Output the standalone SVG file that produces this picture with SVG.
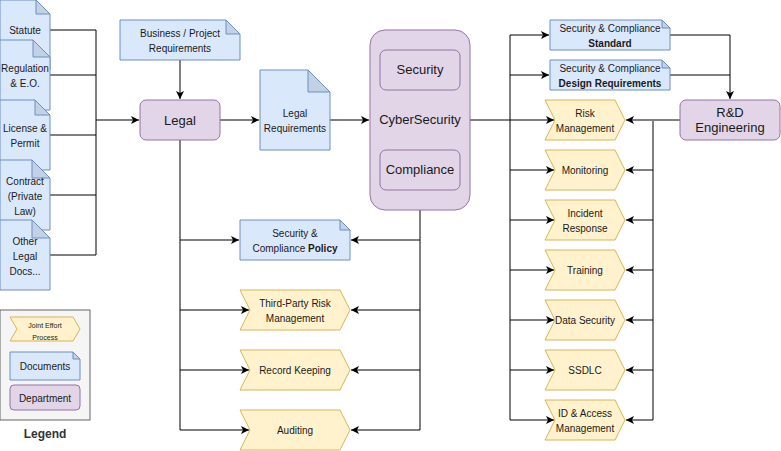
<svg xmlns="http://www.w3.org/2000/svg" width="781" height="451" viewBox="0 0 781 451">
<style>
text{font-family:"Liberation Sans",Arial,sans-serif;fill:#1a1a1a;text-anchor:middle}
.doc{fill:#dae8fc;stroke:#6c8ebf;stroke-width:1}
.fold{fill:#c3d1e6;stroke:#6c8ebf;stroke-width:1}
.dep{fill:#e1d5e7;stroke:#9673a6;stroke-width:1}
.proc{fill:#fff2cc;stroke:#d6b656;stroke-width:1}
.c{fill:none;stroke:#000;stroke-width:1}
.a{marker-end:url(#ar)}
.s11{font-size:11px}.s10{font-size:10px}.s13{font-size:13px}
</style>
<defs>
<marker id="ar" markerWidth="10" markerHeight="10" refX="8" refY="4" orient="auto" markerUnits="userSpaceOnUse">
<path d="M0,0 L8,4 L0,8 L2,4 Z" fill="#000"/>
</marker>
</defs>
<rect width="781" height="451" fill="#fff"/>

<g id="connectors">
<path class="c" d="M50,30H96M50,75H96M50,135H96M50,195H96M50,255H96M96,30V255"/>
<path class="c a" d="M96,120H139"/>
<path class="c a" d="M180,60V99"/>
<path class="c a" d="M220,120H259"/>
<path class="c a" d="M330,120H369"/>
<path class="c" d="M470,120H510M510,35V420"/>
<path class="c a" d="M510,35H549"/>
<path class="c a" d="M510,75H549"/>
<path class="c a" d="M510,120H554"/>
<path class="c a" d="M510,170H554"/>
<path class="c a" d="M510,220H554"/>
<path class="c a" d="M510,270H554"/>
<path class="c a" d="M510,320H554"/>
<path class="c a" d="M510,370H554"/>
<path class="c a" d="M510,420H554"/>
<path class="c" d="M670,35H730M670,75H730"/>
<path class="c a" d="M730,35V99"/>
<path class="c a" d="M680,120H626"/>
<path d="M653,120V420" stroke="#808080" stroke-width="2" fill="none"/>
<path class="c a" d="M653,170H626"/>
<path class="c a" d="M653,220H626"/>
<path class="c a" d="M653,270H626"/>
<path class="c a" d="M653,320H626"/>
<path class="c a" d="M653,370H626"/>
<path class="c a" d="M653,420H626"/>
<path class="c" d="M180,140V430"/>
<path class="c a" d="M180,240H239"/>
<path class="c a" d="M180,310H249"/>
<path class="c a" d="M180,370H249"/>
<path class="c a" d="M180,430H249"/>
<path class="c" d="M420,210V430"/>
<path class="c a" d="M420,240H351"/>
<path class="c a" d="M420,310H351"/>
<path class="c a" d="M420,370H351"/>
<path class="c a" d="M420,430H351"/>
</g>

<g id="statute"><path class="doc" d="M0,0H36L50,14V70H0Z"/><path class="fold" d="M36,0V14H50Z"/><text class="s10" x="25" y="34">Statute</text></g>
<g id="regulation"><path class="doc" d="M0,40H33L50,57V110H0Z"/><path class="fold" d="M33,40V57H50Z"/><text class="s10" x="25" y="72">Regulation</text><text class="s10" x="25" y="87">&amp; E.O.</text></g>
<g id="license"><path class="doc" d="M0,100H35L50,115V170H0Z"/><path class="fold" d="M35,100V115H50Z"/><text class="s10" x="25" y="132">License &amp;</text><text class="s10" x="25" y="147">Permit</text></g>
<g id="contract"><path class="doc" d="M0,160H32L50,178V230H0Z"/><path class="fold" d="M32,160V178H50Z"/><text class="s10" x="25" y="185">Contract</text><text class="s10" x="25" y="200">(Private</text><text class="s10" x="25" y="215">Law)</text></g>
<g id="other"><path class="doc" d="M0,220H32L50,238V290H0Z"/><path class="fold" d="M32,220V238H50Z"/><text class="s10" x="25" y="245">Other</text><text class="s10" x="25" y="260">Legal</text><text class="s10" x="25" y="275">Docs...</text></g>

<g id="business"><path class="doc" d="M120,20H226L240,34V60H120Z"/><path class="fold" d="M226,20V34H240Z"/><text class="s10" x="180" y="37">Business / Project</text><text class="s10" x="180" y="52">Requirements</text></g>
<g id="legal"><rect class="dep" x="140" y="100" width="80" height="40" rx="6"/><text class="s13" x="180" y="125">Legal</text></g>
<g id="legalreq"><path class="doc" d="M260,70H308L330,92V150H260Z"/><path class="fold" d="M308,70V92H330Z"/><text class="s10" x="295" y="117">Legal</text><text class="s10" x="295" y="132">Requirements</text></g>
<g id="cyber"><rect class="dep" x="370" y="30" width="100" height="180" rx="15"/><text class="s13" x="420" y="124">CyberSecurity</text>
<rect class="dep" x="380" y="50" width="80" height="40" rx="6"/><text class="s13" x="420" y="74">Security</text>
<rect class="dep" x="380" y="150" width="80" height="40" rx="6"/><text class="s13" x="420" y="174">Compliance</text></g>
<g id="policy"><path class="doc" d="M240,220H340L350,230V260H240Z"/><path class="fold" d="M340,220V230H350Z"/><text class="s10" x="295" y="237">Security  &amp;</text><text class="s10" x="295" y="252">Compliance <tspan font-weight="bold">Policy</tspan></text></g>
<g id="tprm"><path class="proc" d="M240,290H340L350,310L340,330H240L250,310Z"/><text class="s10" x="295" y="307">Third-Party Risk</text><text class="s10" x="295" y="322">Management</text></g>
<g id="record"><path class="proc" d="M240,350H340L350,370L340,390H240L250,370Z"/><text class="s10" x="295" y="374">Record Keeping</text></g>
<g id="auditing"><path class="proc" d="M240,410H340L350,430L340,450H240L250,430Z"/><text class="s10" x="295" y="434">Auditing</text></g>

<g id="standard"><path class="doc" d="M550,20H662L670,28V50H550Z"/><path class="fold" d="M662,20V28H670Z"/><text class="s10" x="610" y="32">Security &amp; Compliance</text><text class="s10" x="610" y="47" font-weight="bold">Standard</text></g>
<g id="design"><path class="doc" d="M550,60H662L670,68V90H550Z"/><path class="fold" d="M662,60V68H670Z"/><text class="s10" x="610" y="72">Security  &amp; Compliance</text><text class="s10" x="610" y="87" font-weight="bold">Design Requirements</text></g>
<g id="rnd"><rect class="dep" x="680" y="100" width="100" height="40" rx="6"/><text class="s13" x="730" y="117">R&amp;D</text><text class="s13" x="730" y="132">Engineering</text></g>

<g id="risk"><path class="proc" d="M545,100H615L625,120L615,140H545L555,120Z"/><text class="s10" x="585" y="117">Risk</text><text class="s10" x="585" y="132">Management</text></g>
<g id="monitoring"><path class="proc" d="M545,150H615L625,170L615,190H545L555,170Z"/><text class="s10" x="585" y="174">Monitoring</text></g>
<g id="incident"><path class="proc" d="M545,200H615L625,220L615,240H545L555,220Z"/><text class="s10" x="585" y="217">Incident</text><text class="s10" x="585" y="232">Response</text></g>
<g id="training"><path class="proc" d="M545,250H615L625,270L615,290H545L555,270Z"/><text class="s10" x="585" y="274">Training</text></g>
<g id="datasec"><path class="proc" d="M545,300H615L625,320L615,340H545L555,320Z"/><text class="s10" x="585" y="324">Data Security</text></g>
<g id="ssdlc"><path class="proc" d="M545,350H615L625,370L615,390H545L555,370Z"/><text class="s10" x="585" y="374">SSDLC</text></g>
<g id="idam"><path class="proc" d="M545,400H615L625,420L615,440H545L555,420Z"/><text class="s10" x="585" y="417">ID &amp; Access</text><text class="s10" x="585" y="432">Management</text></g>

<g id="legend"><rect x="0" y="310" width="90" height="110" fill="#f5f5f5" stroke="#666"/>
<path class="proc" d="M10,317H73L80,329L73,341H10L17,329Z"/><text x="45" y="328" font-size="7">Joint Effort</text><text x="45" y="340" font-size="7">Process</text>
<path class="doc" d="M10,352H73L80,359V380H10Z"/><path class="fold" d="M73,352V359H80Z"/><text class="s10" x="45" y="370">Documents</text>
<rect class="dep" x="10" y="385" width="70" height="25" rx="4"/><text class="s10" x="45" y="402">Department</text>
<text x="45" y="438" font-size="12" font-weight="bold" style="fill:#333">Legend</text></g>
</svg>
